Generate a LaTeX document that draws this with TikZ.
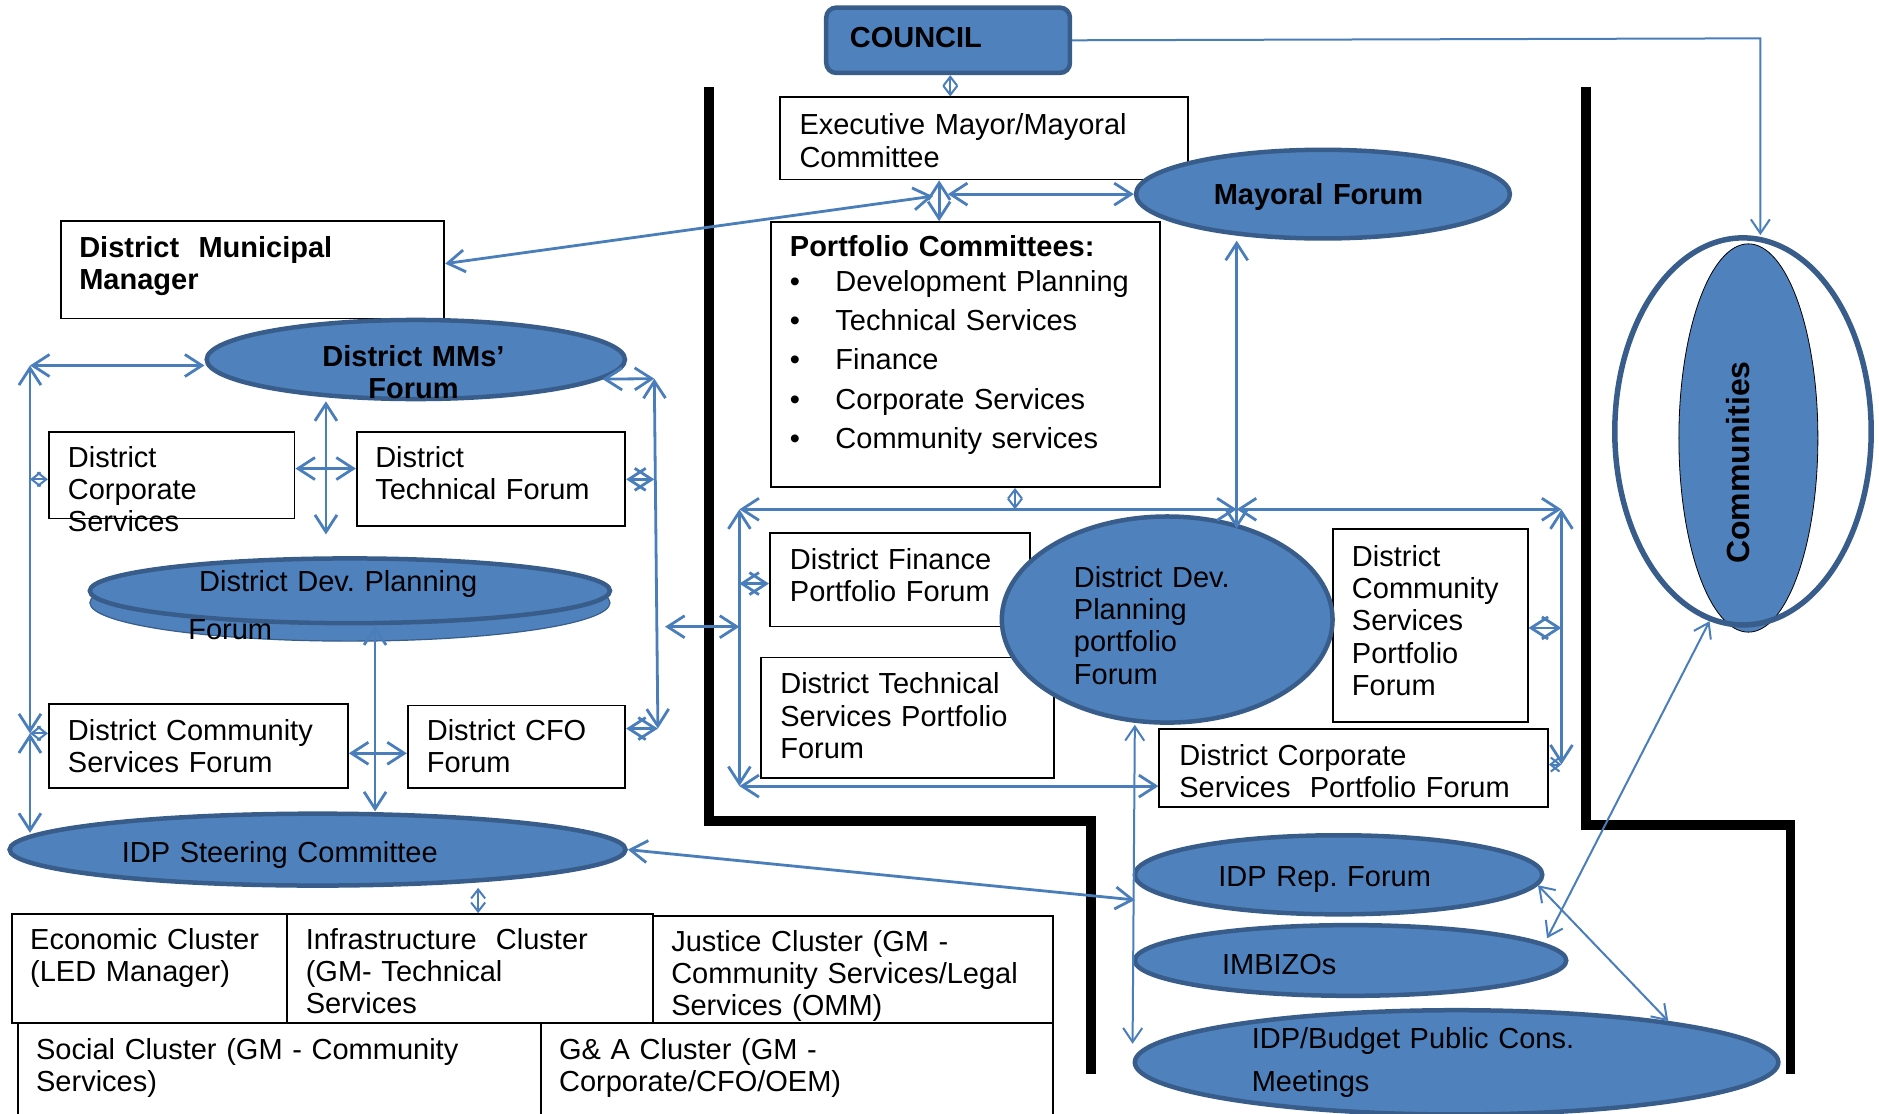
\documentclass[tikz,border=0pt]{standalone}
\usepackage{fontspec}
\setmainfont{Liberation Sans}
\frenchspacing
\usetikzlibrary{shapes.geometric,arrows.meta,calc}
\newdimen\pxu
\pxu=1.1983pt
\newcommand\fsz{\fontsize{29pt}{32.3pt}\selectfont\frenchspacing}
\definecolor{ofill}{HTML}{4F81BD}
\definecolor{odark}{HTML}{385D8A}
\definecolor{oline}{HTML}{4A7EBB}
\tikzset{
  bx/.style={rectangle, draw=black, line width=1.8pt, fill=white, inner sep=0pt, anchor=north west},
  cbox/.style={rectangle, rounded corners=10pt, draw=odark, fill=ofill, line width=4.5pt, inner sep=0pt, anchor=north west},
  ell/.style={ellipse, draw=odark, fill=ofill, line width=4.5pt, inner sep=0pt},
  tx/.style={anchor=base west, inner sep=0pt, align=left, font=\fsz},
  wall/.style={draw=black, line width=9.5pt},
  con/.style={draw=oline, line width=2.8pt, >={Straight Barb[length=17pt,width=22pt]}, <->},
  thincon/.style={draw=oline, line width=2pt, >={Straight Barb[length=14pt,width=19pt]}, <->},
  tinycon/.style={draw=oline, line width=2pt, >={Straight Barb[length=9pt,width=14pt]}, <->},
}
\begin{document}
\begin{tikzpicture}[x=1.1983pt, y=-1.1983pt]
\useasboundingbox (0,0) rectangle (1568,929);
% black boundary lines
\draw[wall] (591.7,73) -- (591.7,685) -- (910.6,685) -- (910.6,896);
\draw[wall] (1323.5,73) -- (1323.5,688.6) -- (1494,688.6) -- (1494,896);
% council
\node[cbox, minimum width=203.4\pxu, minimum height=54.5\pxu] (council) at (687.6,4.5) {};
% boxes
\node[bx, minimum width=340.6\pxu, minimum height=68.5\pxu] (exec) at (650,80.5) {};
\node[bx, minimum width=320\pxu, minimum height=81\pxu] (dmm) at (50,184) {};
\node[bx, minimum width=324.4\pxu, minimum height=221.1\pxu] (pf) at (642.6,184.6) {};
\node[bx, minimum width=205\pxu, minimum height=72\pxu] (dcs) at (40,360) {};
\node[bx, minimum width=224\pxu, minimum height=78\pxu] (dtf) at (297,360) {};
\node[bx, minimum width=249.6\pxu, minimum height=70\pxu] (dcsf) at (40,587) {};
\node[bx, minimum width=181.5\pxu, minimum height=69\pxu] (cfo) at (339.5,588) {};
\node[bx, minimum width=217.3\pxu, minimum height=78\pxu] (dfp) at (641.7,444) {};
\node[bx, minimum width=245\pxu, minimum height=100.6\pxu] (dtsp) at (634,548) {};
\node[bx, minimum width=162.5\pxu, minimum height=161\pxu] (dcsp) at (1111.5,441) {};
\node[bx, minimum width=324.3\pxu, minimum height=65\pxu] (dcorp) at (966.7,607.6) {};
\node[bx, minimum width=230\pxu, minimum height=91\pxu] (econ) at (9,762) {};
\node[bx, minimum width=305\pxu, minimum height=91\pxu] (infra) at (239,762) {};
\node[bx, minimum width=334\pxu, minimum height=89.4\pxu] (justice) at (544,763.6) {};
\node[bx, minimum width=436.6\pxu, minimum height=90\pxu] (social) at (14,853) {};
\node[bx, minimum width=427.4\pxu, minimum height=90\pxu] (ga) at (450.6,853) {};
% ellipses
\node[ell, minimum width=312\pxu, minimum height=74\pxu] (mayoral) at (1104,162) {};
\node[ell, minimum width=349\pxu, minimum height=66\pxu] (mmf) at (347,300) {};
\node[ellipse, draw=odark, fill=ofill, line width=1.2pt, minimum width=434\pxu, minimum height=64\pxu, inner sep=0pt] (ddpfback) at (292,503) {};
\node[ell, minimum width=434\pxu, minimum height=54\pxu] (ddpf) at (292,493) {};
\node[ell, minimum width=514\pxu, minimum height=60\pxu] (idps) at (265,709) {};
\node[ell, minimum width=276\pxu, minimum height=172\pxu] (ddpp) at (974,517) {};
\node[ell, minimum width=340\pxu, minimum height=66\pxu] (idprep) at (1117,730) {};
\node[ell, minimum width=360\pxu, minimum height=59\pxu] (imbizo) at (1127,801.5) {};
\node[ell, minimum width=537\pxu, minimum height=87\pxu] (budget) at (1215.5,886.5) {};
\node[ellipse, fill=ofill, draw=black, line width=0.8pt, minimum width=116\pxu, minimum height=324\pxu, inner sep=0pt] (comminner) at (1459,365.5) {};
\node[ellipse, draw=odark, line width=5.5pt, minimum width=214\pxu, minimum height=323\pxu, inner sep=0pt] (commouter) at (1454.5,360) {};
% texts
\node[tx, font=\fsz\bfseries, text width=160pt] (tcouncil) at (709,39.6) {COUNCIL};
\node[tx, text width=345pt] (texec) at (667,112.5) {Executive Mayor/Mayoral\\Committee};
\node[tx, font=\fsz\bfseries, text width=230pt] (tmayoral) at (1012.7,171) {Mayoral Forum};
\node[tx, font=\fsz\bfseries, text width=270pt] (tdmm) at (66,215) {District~~Municipal\\Manager};
\node[tx, text width=360pt] (tpf) at (659,214) {\textbf{Portfolio Committees:}\\[2.5pt]
  \makebox[38\pxu][l]{\textbullet}Development Planning\\[7pt]
  \makebox[38\pxu][l]{\textbullet}Technical Services\\[7pt]
  \makebox[38\pxu][l]{\textbullet}Finance\\[7pt]
  \makebox[38\pxu][l]{\textbullet}Corporate Services\\[7pt]
  \makebox[38\pxu][l]{\textbullet}Community services};
\node[anchor=base, inner sep=0pt, align=center, text width=300pt, font=\fsz\bfseries] (tmmf) at (345,305.5) {District MMs’\\Forum};
\node[tx, text width=220pt] (tdcs) at (56.5,390) {District\\Corporate\\Services};
\node[tx, text width=240pt] (tdtf) at (313,390) {District\\Technical Forum};
\node[tx, text width=300pt] (tddpf) at (166,494) {District Dev. Planning\\[15.6pt]\hspace*{-9\pxu}Forum};
\node[tx, text width=270pt] (tdcsf) at (56.5,618) {District Community\\Services Forum};
\node[tx, text width=190pt] (tcfo) at (356,618) {District CFO\\Forum};
\node[tx, text width=340pt] (tidps) at (101.5,720) {IDP Steering Committee};
\node[tx, text width=250pt] (tecon) at (25,792) {Economic Cluster\\(LED Manager)};
\node[tx, text width=300pt] (tinfra) at (255,792) {Infrastructure~~Cluster\\(GM- Technical\\Services};
\node[tx, text width=370pt] (tjust) at (560,793.6) {Justice Cluster (GM -\\Community Services/Legal\\Services (OMM)};
\node[tx, text width=440pt] (tsoc) at (30,884) {Social Cluster (GM - Community\\Services)};
\node[tx, text width=310pt] (tga) at (466.4,884) {G\& A Cluster (GM -\\Corporate/CFO/OEM)};
\node[tx, text width=225pt] (tdfp) at (659,475) {District Finance\\Portfolio Forum};
\node[tx, text width=250pt] (tdtsp) at (651,579) {District Technical\\Services Portfolio\\Forum};
\node[tx, text width=180pt] (tddpp) at (896,490) {District Dev.\\Planning\\portfolio\\Forum};
\node[tx, text width=175pt] (tdcsp) at (1128,472.5) {District\\Community\\Services\\Portfolio\\Forum};
\node[tx, text width=345pt] (tdcorp) at (984,638.6) {District Corporate\\Services~~Portfolio Forum};
\node[tx, text width=235pt] (tidprep) at (1016.5,740) {IDP Rep. Forum};
\node[tx, text width=140pt] (timb) at (1019.6,813) {IMBIZOs};
\node[tx, text width=345pt] (tbud) at (1044.4,874.6) {IDP/Budget Public Cons.\\[11.3pt]Meetings};
\node[rotate=90, inner sep=0pt, font=\fontsize{32pt}{36pt}\selectfont\bfseries] (tcomm) at (1450.6,386) {Communities};
% junction coordinates
\coordinate (cA) at (1469,32);
\coordinate (jD) at (791,162);
\coordinate (jE) at (778.5,163.7);
\coordinate (cF) at (1032,441);
\coordinate (fTL) at (617,425);
\coordinate (fTM) at (1032,425);
\coordinate (fTR) at (1303,425);
\coordinate (fBL) at (617,656);
\coordinate (fBR) at (1303,638);
\coordinate (cX) at (555,523);
\coordinate (lTL) at (25,305);
\coordinate (lM) at (25,612);
\coordinate (lB) at (25,695);
\coordinate (rT) at (546,316);
\coordinate (rB) at (549,608);
\coordinate (cM1) at (272,446);
\coordinate (cI) at (947,751);
\coordinate (cC1) at (1291,783);
% connectors
\draw[thincon,->] (council.east) -- (cA) -- (cA |- commouter.north);
\draw[tinycon] (council.south -| 793,0) -- (exec.north -| 793,0);
\draw[con] (exec.south -| 783.7,0) -- (pf.north -| 783.7,0);
\draw[con] (jD) -- (mayoral.west);
\draw[con] (dmm.east |- 0,220) -- (jE);
\draw[con] (mayoral.south -| 1032,0) -- (cF);
\draw[tinycon] (pf.south -| 847,0) -- (fTL -| 847,0);
\draw[con] (fTL) -- (fTM);
\draw[con] (fTM) -- (fTR);
\draw[con] (fTL) -- (fBL);
\draw[con] (fTR) -- (fBR);
\draw[con] (fBL) -- (dcorp.west |- fBL);
\draw[con] (fTL |- 0,487) -- (dfp.west |- 0,487);
\draw[con] (dcsp.east |- 0,524) -- (fTR |- 0,524);
\draw[tinycon] (dcorp.east |- fBR) -- (fBR);
\draw[con] (cX) -- (fTL |- cX);
\draw[con] (lTL) -- (mmf.west |- lTL);
\draw[con] (lTL) -- (lM);
\draw[con] (lM) -- (lB);
\draw[con] (mmf.-6) -- (rT);
\draw[con] (rT) -- (rB);
\draw[con] (mmf.south -| 272,0) -- (cM1);
\draw[con] (dcs.east |- 0,391) -- (dtf.west |- 0,391);
\draw[tinycon] (lTL |- 0,400) -- (dcs.west |- 0,400);
\draw[con] (dtf.east |- 0,400) -- (rT |- 0,400);
\draw[tinycon] (lM) -- (dcsf.west |- lM);
\draw[con] (cfo.east |- rB) -- (rB);
\draw[con] (ddpf.south -| 313,0) -- (idps.north -| 313,0);
\draw[con] (dcsf.east |- 0,628.6) -- (cfo.west |- 0,628.6);
\draw[tinycon] (idps.south -| 399,0) -- (econ.north -| 399,0);
\draw[con] (idps.east) -- (cI);
\draw[thincon] (ddpp.south -| 947,0) -- (budget.west |- 0,871);
\draw[thincon] (commouter.-100) -- (cC1);
\draw[thincon] (idprep.-3.6) -- (budget.11);
\end{tikzpicture}
\end{document}
